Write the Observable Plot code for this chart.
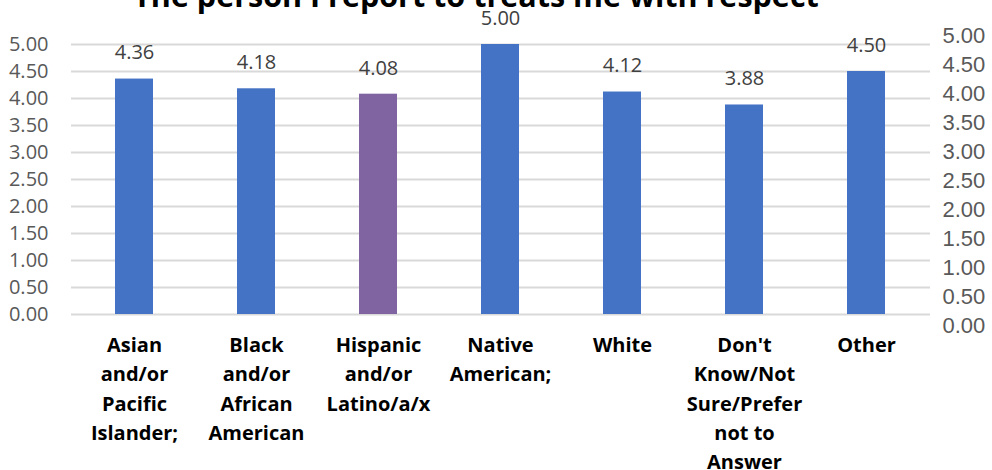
<!DOCTYPE html>
<html>
<head>
<meta charset="utf-8">
<script src="https://cdn.jsdelivr.net/npm/d3@7"></script>
<script src="https://cdn.jsdelivr.net/npm/@observablehq/plot@0.6"></script>
<style>
  html, body { margin: 0; padding: 0; background: #fff; }
  #chart svg { display: block; }
</style>
</head>
<body>
<div id="chart"></div>
<script>
// Mean agreement score by race / ethnicity
const title = "The person I report to treats me with respect";
const categories = [
  "Asian and/or Pacific Islander;",
  "Black and/or African American",
  "Hispanic and/or Latino/a/x",
  "Native American;",
  "White",
  "Don't Know/Not Sure/Prefer not to Answer",
  "Other"
];
const tickLabels = [
  "Asian\nand/or\nPacific\nIslander;",
  "Black\nand/or\nAfrican\nAmerican",
  "Hispanic\nand/or\nLatino/a/x",
  "Native\nAmerican;",
  "White",
  "Don't\nKnow/Not\nSure/Prefer\nnot to\nAnswer",
  "Other"
];
const scores = [4.36, 4.18, 4.08, 5.00, 4.12, 3.88, 4.50];
const barColors = ["#4472C4", "#4472C4", "#8064A2", "#4472C4", "#4472C4", "#4472C4", "#4472C4"];
const yTicks = [0, 0.5, 1, 1.5, 2, 2.5, 3, 3.5, 4, 4.5, 5];

const rows = categories.map((c, i) => ({category: c, label: tickLabels[i], score: scores[i], color: barColors[i]}));
const labelOf = new Map(rows.map(d => [d.category, d.label]));

// The secondary (right) axis spans a slightly taller range than the primary one:
// its 0 and 5 sit at these primary-axis values.
const secondary = d3.scaleLinear().domain([0, 5]).range([-0.204, 5.167]);

const fmt = d3.format(".2f");

const chart = Plot.plot({
  width: 992,
  height: 470,
  marginTop: 44,
  marginBottom: 156,
  marginLeft: 71,
  marginRight: 62,
  style: {fontFamily: "'Open Sans', sans-serif", background: "#fff", overflow: "visible"},
  x: {domain: categories, paddingInner: 0.686, paddingOuter: 0.343, axis: null, label: null},
  y: {domain: [0, 5], axis: null, label: null},
  marks: [
    Plot.gridY(yTicks, {stroke: "#d9d9d9", strokeOpacity: 1, strokeWidth: 2}),
    Plot.axisY(yTicks, {anchor: "left", label: null, tickSize: 0, tickPadding: 23, tickFormat: fmt, fontSize: 20, fill: "#595959"}),
    Plot.barY(rows, {x: "category", y: "score", fill: "color"}),
    Plot.text(rows, {x: "category", y: "score", text: d => fmt(d.score), dy: -26, lineAnchor: "middle", fontSize: 20, fill: "#404040"}),
    Plot.axisX(categories, {anchor: "bottom", label: null, tickSize: 0, tickPadding: 17, tickFormat: d => labelOf.get(d), fontSize: 20, fontWeight: "bold", fill: "#000", lineHeight: 1.46}),
    Plot.text(yTicks, {y: d => secondary(d), text: d => fmt(d), frameAnchor: "right", textAnchor: "start", dx: 12, lineAnchor: "middle", fontSize: 22, fontFamily: "'Liberation Sans', Arial, sans-serif", fill: "#595959"}),
    Plot.text([title], {text: d => d, frameAnchor: "top", dy: -47.7, dx: -25, lineAnchor: "middle", fontSize: 30.5, fontWeight: "bold", fill: "#000"})
  ]
});
document.getElementById("chart").append(chart);
</script>
</body>
</html>
